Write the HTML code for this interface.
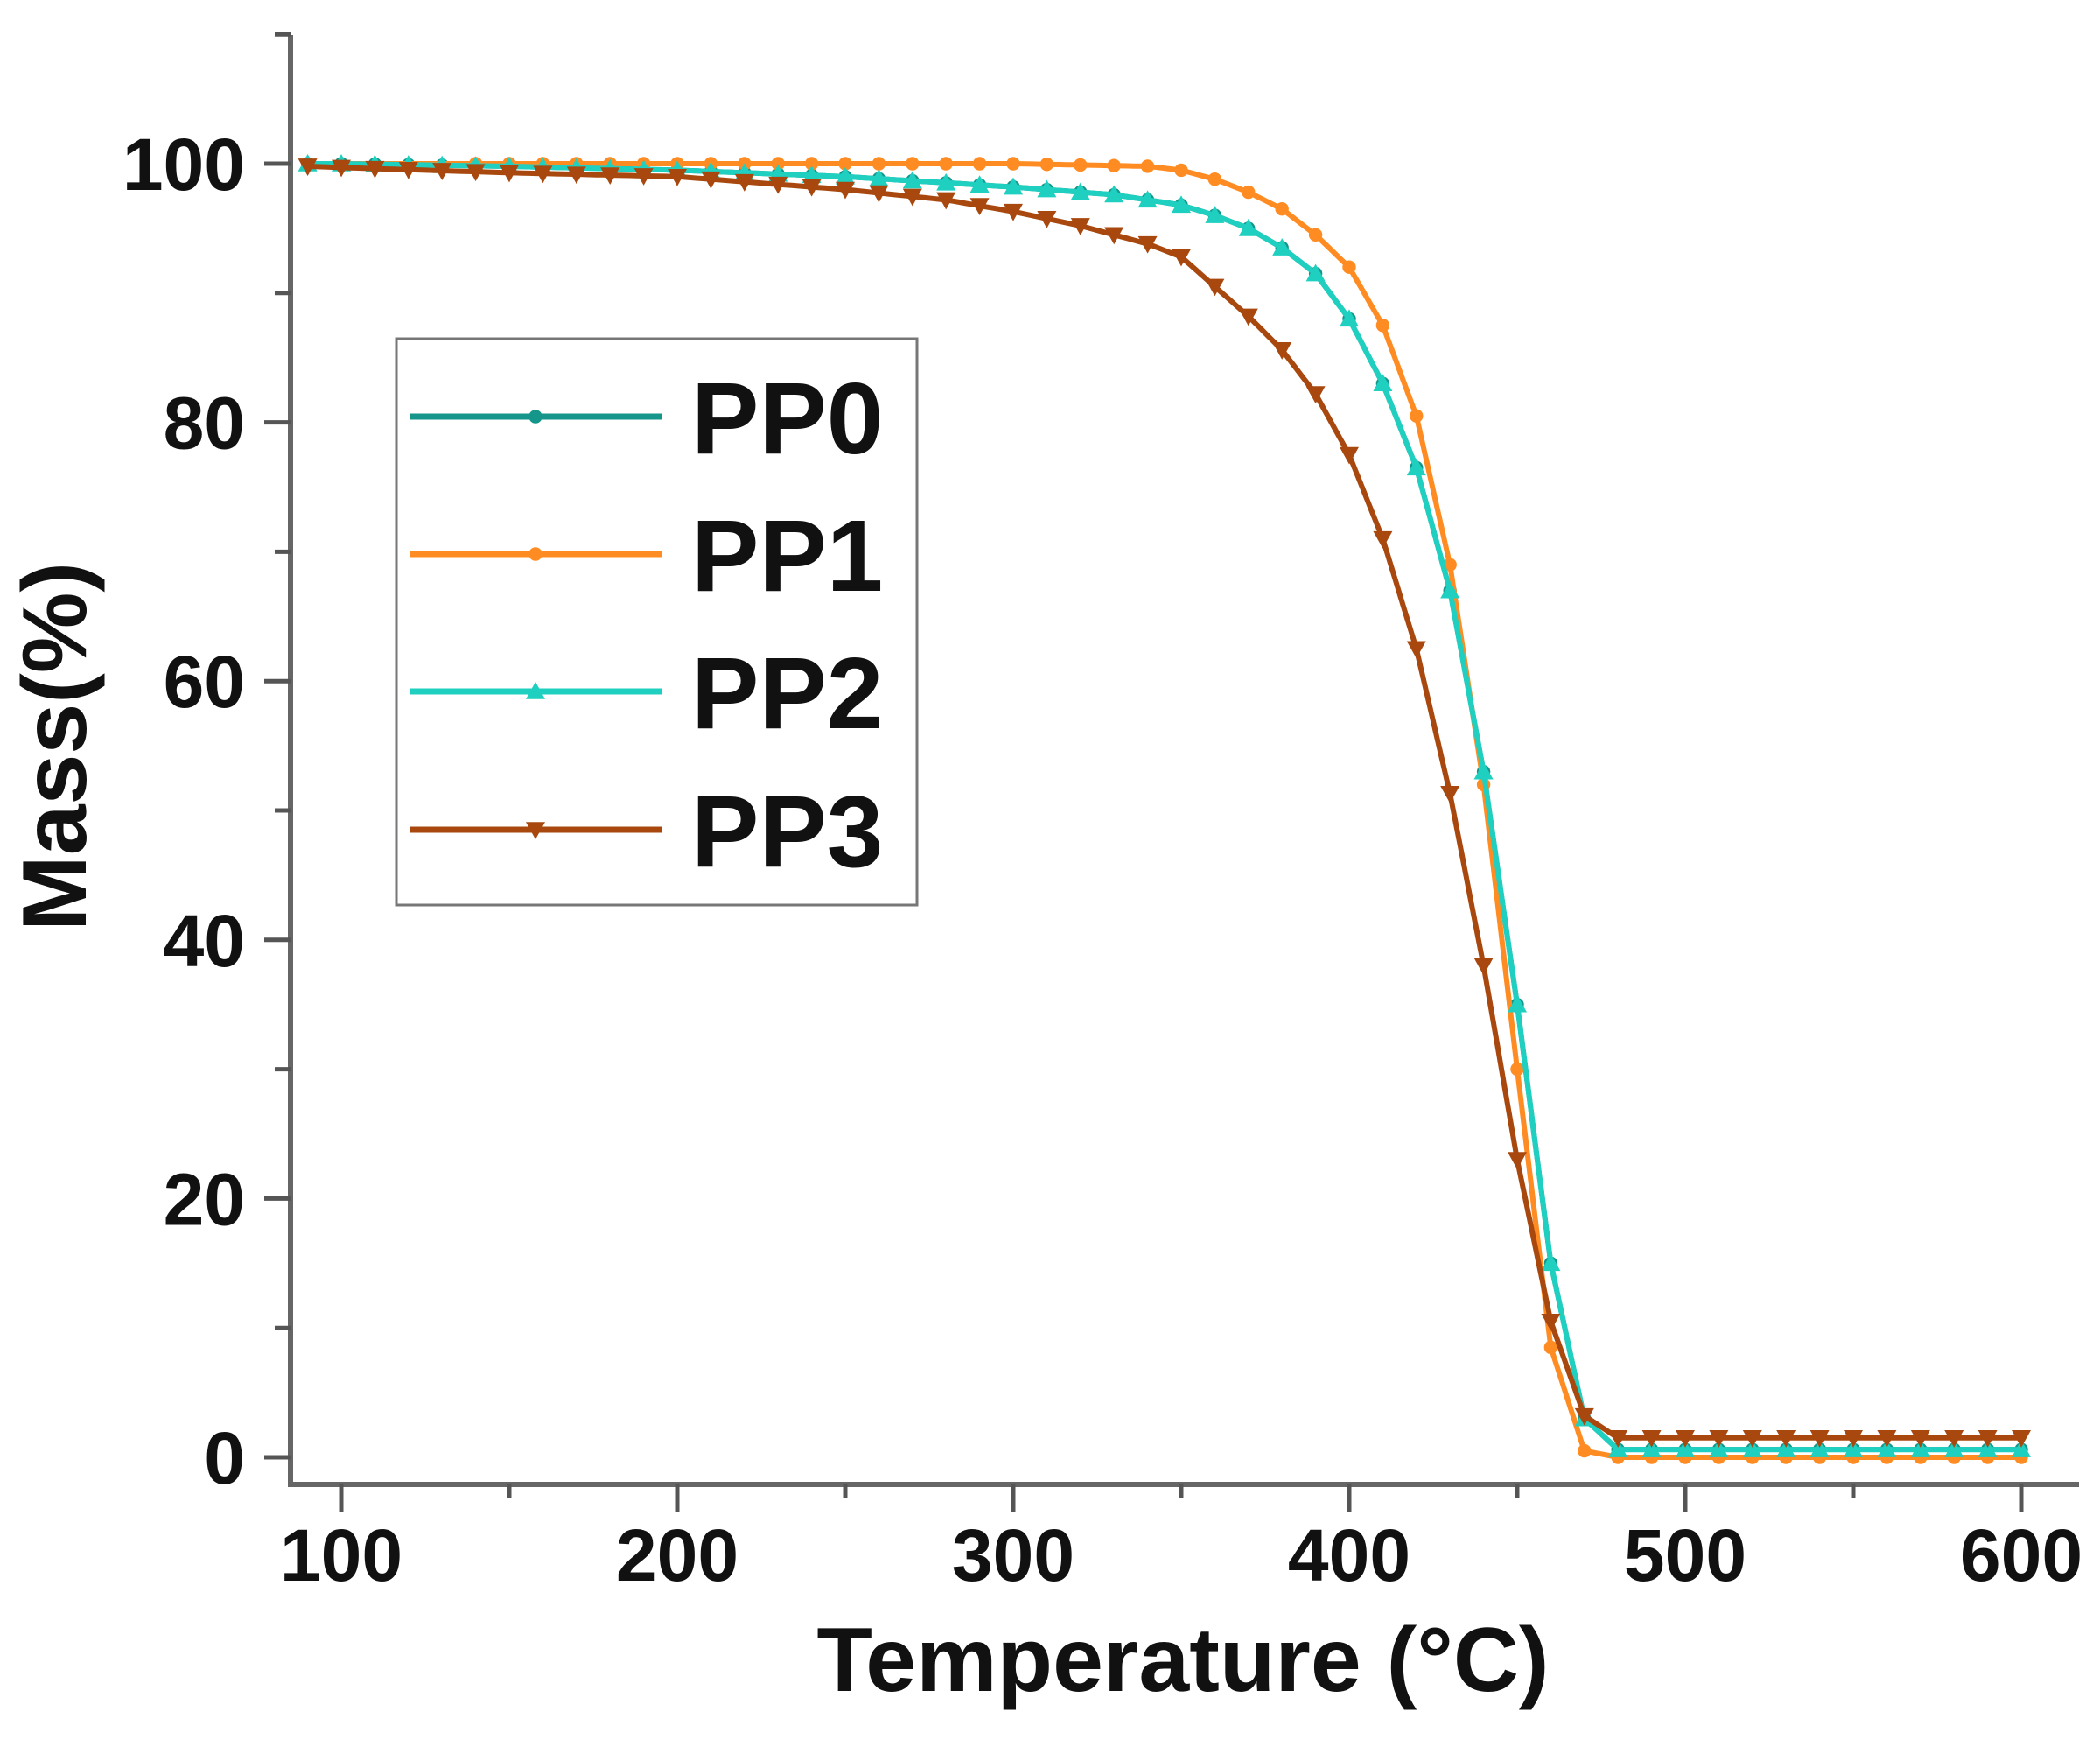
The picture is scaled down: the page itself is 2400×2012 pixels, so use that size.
<!DOCTYPE html>
<html><head><meta charset="utf-8"><style>
html,body{margin:0;padding:0;background:#fff;}
svg{display:block;}
text{font-family:"Liberation Sans",Arial,sans-serif;font-weight:bold;fill:#111;}
</style></head><body>
<svg id="s" width="2400" height="2012" xmlns="http://www.w3.org/2000/svg">
<g stroke="#666" stroke-width="6" fill="none">
<line x1="332" y1="40" x2="332" y2="1699"/>
<line x1="329" y1="1696" x2="2376" y2="1696"/>
</g>
<g id="ticks" stroke="#555" stroke-width="5"></g>
<g id="labels"></g>
<g id="series"></g>
<rect x="453" y="387" width="595" height="647" fill="none" stroke="#777" stroke-width="3"/>
<g id="legend"></g>
<text x="1352" y="1932" font-size="104" text-anchor="middle">Temperature (°C)</text>
<text transform="translate(98,853) rotate(-90)" font-size="104" text-anchor="middle">Mass(%)</text>
</svg>
<script>
var NS="http://www.w3.org/2000/svg";
function X(t){return 390+(t-100)*3.84;}
function Y(m){return 1665-m*14.78;}
function el(tag,a,p){var e=document.createElementNS(NS,tag);for(var k in a)e.setAttribute(k,a[k]);p.appendChild(e);return e;}
var tk=document.getElementById('ticks'),lb=document.getElementById('labels');
for(var m=0;m<=110;m+=10){var maj=m%20==0;el('line',{x1:maj?302:314,y1:Y(m),x2:332,y2:Y(m)},tk);
 if(maj){var t=el('text',{x:280,y:Y(m)+30,'font-size':84,'text-anchor':'end'},lb);t.textContent=m;}}
for(var T=100;T<=600;T+=50){var maj=T%100==0;el('line',{x1:X(T),y1:1696,x2:X(T),y2:maj?1728:1712},tk);
 if(maj){var t=el('text',{x:X(T),y:1806,'font-size':84,'text-anchor':'middle'},lb);t.textContent=T;}}
var d={
PP1:[[90,100],[100,100],[200,100],[300,100],[340,99.8],[350,99.5],[360,98.8],[370,97.8],[380,96.5],[390,94.5],[400,92],[410,87.5],[420,80.5],[430,69],[440,52],[450,30],[460,8.5],[470,0.5],[480,0]],
PP2:[[90,100],[100,100],[150,99.8],[200,99.5],[250,99],[300,98.2],[330,97.6],[350,96.8],[360,96],[370,95],[380,93.5],[390,91.5],[400,88],[410,83],[420,76.5],[430,67],[440,53],[450,35],[460,15],[470,3],[480,0.6]],
PP3:[[90,99.8],[100,99.7],[150,99.3],[200,99],[250,98],[280,97.2],[300,96.3],[320,95.2],[340,93.8],[350,92.8],[360,90.5],[370,88.2],[380,85.6],[390,82.2],[400,77.5],[410,71],[420,62.5],[430,51.3],[440,38],[450,23],[460,10.5],[470,3.2],[480,1.5]]};
function interp(a,t){if(t>=a[a.length-1][0])return a[a.length-1][1];for(var i=1;i<a.length;i++)if(t<=a[i][0]){var p=a[i-1],q=a[i];return p[1]+(q[1]-p[1])*(t-p[0])/(q[0]-p[0]);}return a[0][1];}
var ser=document.getElementById('series');
var cfg=[['PP0','#14968a','PP2',0,'c'],['PP1','#ff8c22','PP1',0,'c'],['PP2','#1fcfc0','PP2',0,'t'],['PP3','#a8480e','PP3',0,'v']];
function marker(type,x,y,c,s,p){
 if(type=='c')el('circle',{cx:x,cy:y,r:s*0.7,fill:c},p);
 else if(type=='t')el('polygon',{points:(x)+','+(y-s)+' '+(x-s)+','+(y+s*0.8)+' '+(x+s)+','+(y+s*0.8),fill:c},p);
 else el('polygon',{points:(x)+','+(y+s)+' '+(x-s)+','+(y-s*0.8)+' '+(x+s)+','+(y-s*0.8),fill:c},p);}
cfg.forEach(function(c){var a=d[c[2]],pts=[];
 for(var t=90;t<=600;t+=2){var v=interp(a,t)+c[3];if(c[0]=='PP3'&&t>480)v=1.5;pts.push(X(t).toFixed(1)+','+Y(v).toFixed(1));}
 el('polyline',{points:pts.join(' '),fill:'none',stroke:c[1],'stroke-width':6,'stroke-linejoin':'round'},ser);
 var start=c[0]=='PP1'?140:90;
 for(var t=start;t<=600;t+=10){var v=interp(a,t)+c[3];if(c[0]=='PP3'&&t>480)v=1.5;marker(c[4],X(t),Y(v),c[1],11,ser);}
});
var lg=document.getElementById('legend');
var ly=[476,633,790,948];
cfg.forEach(function(c,i){el('line',{x1:469,y1:ly[i],x2:756,y2:ly[i],stroke:c[1],'stroke-width':7},lg);
 marker(c[4],612,ly[i],c[1],11,lg);
 var t=el('text',{x:790,y:ly[i]+42,'font-size':116},lg);t.textContent=c[0];});
</script>
</body></html>
